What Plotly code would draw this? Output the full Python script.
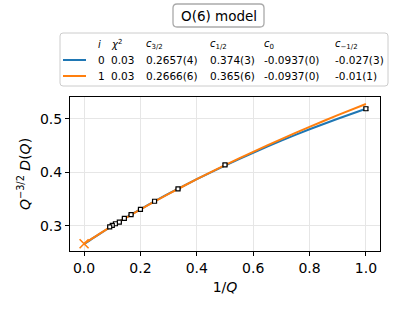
import plotly.graph_objects as go

# ---- data ----
Q = [1, 2, 3, 4, 5, 6, 7, 8, 9, 10, 11]
inv_Q = [1.0, 0.5, 0.3333, 0.25, 0.2, 0.1667, 0.1429, 0.125, 0.1111, 0.1, 0.0909]
D_scaled = [0.519, 0.414, 0.369, 0.346, 0.331, 0.321, 0.314, 0.307, 0.304, 0.301, 0.298]
D_err = [0.003, 0.002, 0.0015, 0.001, 0.001, 0.001, 0.001, 0.001, 0.001, 0.001, 0.001]

fit_x = [0.0, 0.025, 0.05, 0.1, 0.15, 0.2, 0.3, 0.4, 0.5, 0.6, 0.7, 0.8, 0.9, 1.0]
fit0_y = [0.2657, 0.2748, 0.2833, 0.2999, 0.3157, 0.3310, 0.3601, 0.3873, 0.4128, 0.4368, 0.4594, 0.4806, 0.5004, 0.5190]
fit1_y = [0.2666, 0.2753, 0.2838, 0.3000, 0.3156, 0.3308, 0.3598, 0.3873, 0.4135, 0.4385, 0.4623, 0.4852, 0.5070, 0.5279]
extrap_x = [0.0]
extrap_y = [0.2666]

fit_labels_i = ["0", "1"]
fit_chi2 = ["0.03", "0.03"]
fit_c32 = ["0.2657(4)", "0.2666(6)"]
fit_c12 = ["0.374(3)", "0.365(6)"]
fit_c0 = ["-0.0937(0)", "-0.0937(0)"]
fit_cm12 = ["-0.027(3)", "-0.01(1)"]
fit_colors = ["#1f77b4", "#ff7f0e"]

x_ticks = [0.0, 0.2, 0.4, 0.6, 0.8, 1.0]
y_ticks = [0.3, 0.4, 0.5]

# ---- layout geometry (pixels) ----
W_PX, H_PX = 399, 309
L, R, T, B = 70, 380, 97, 251
FONT = "DejaVu Sans"

def px(x):
    return (x - L) / (R - L)

def py(y):
    return (B - y) / (B - T)

def rounded_rect(x0, y0, x1, y1, r):
    rx = r / (R - L)
    ry = r / (B - T)
    X0, X1 = px(x0), px(x1)
    Y0, Y1 = py(y0), py(y1)  # Y0 top (larger), Y1 bottom
    return (f"M {X0+rx},{Y0} L {X1-rx},{Y0} Q {X1},{Y0} {X1},{Y0-ry} "
            f"L {X1},{Y1+ry} Q {X1},{Y1} {X1-rx},{Y1} L {X0+rx},{Y1} "
            f"Q {X0},{Y1} {X0},{Y1+ry} L {X0},{Y0-ry} Q {X0},{Y0} {X0+rx},{Y0} Z")

fig = go.Figure()

for k, fy in enumerate([fit0_y, fit1_y]):
    fig.add_trace(go.Scatter(x=fit_x, y=fy, mode="lines",
                             line=dict(color=fit_colors[k], width=2, shape="spline", smoothing=0.6),
                             showlegend=False, hoverinfo="skip"))

fig.add_trace(go.Scatter(x=inv_Q, y=D_scaled, mode="markers",
                         marker=dict(symbol="square", size=4, color="white",
                                     line=dict(color="black", width=1.2)),
                         error_y=dict(type="data", array=D_err, color="black",
                                      thickness=1, width=2.5),
                         showlegend=False))

fig.add_trace(go.Scatter(x=extrap_x, y=extrap_y, mode="markers",
                         marker=dict(symbol="x-thin", size=9,
                                     line=dict(color=fit_colors[1], width=1.6)),
                         showlegend=False))

shapes = []
annotations = []

# title box
shapes.append(dict(type="path", xref="paper", yref="paper",
                   path=rounded_rect(173, 4, 264, 27, 4),
                   line=dict(color="#aaaaaa", width=1.3), fillcolor="white", layer="above"))
annotations.append(dict(x=px(218.5), y=py(16), xref="paper", yref="paper",
                        text="O(6) model", showarrow=False,
                        font=dict(family=FONT, size=13.5, color="black"),
                        xanchor="center", yanchor="middle"))

# legend table box
shapes.append(dict(type="path", xref="paper", yref="paper",
                   path=rounded_rect(60, 33, 388, 86, 3),
                   line=dict(color="#cccccc", width=1), fillcolor="rgba(255,255,255,0.8)",
                   layer="above"))

col_x = [96, 109, 144, 208, 262, 333]
headers = ["<i>i</i>", "<i>χ</i><sup>2</sup>", "<i>c</i><sub>3/2</sub>",
           "<i>c</i><sub>1/2</sub>", "<i>c</i><sub>0</sub>", "<i>c</i><sub>−1/2</sub>"]
header_y = 44
row_y = [60, 76]

for cx, h in zip(col_x, headers):
    annotations.append(dict(x=px(cx), y=py(header_y), xref="paper", yref="paper",
                            text=h, showarrow=False,
                            font=dict(family=FONT, size=10, color="black"),
                            xanchor="left", yanchor="middle"))

for k in range(2):
    shapes.append(dict(type="line", xref="paper", yref="paper",
                       x0=px(63), x1=px(86), y0=py(row_y[k]), y1=py(row_y[k]),
                       line=dict(color=fit_colors[k], width=2), layer="above"))
    vals = [fit_labels_i[k], fit_chi2[k], fit_c32[k], fit_c12[k], fit_c0[k], fit_cm12[k]]
    for cx, v in zip(col_x, vals):
        annotations.append(dict(x=px(cx), y=py(row_y[k]), xref="paper", yref="paper",
                                text=v, showarrow=False,
                                font=dict(family=FONT, size=10.5, color="black"),
                                xanchor="left", yanchor="middle"))

fig.update_layout(
    width=W_PX, height=H_PX,
    margin=dict(l=L, r=W_PX - R, t=T, b=H_PX - B, pad=0),
    paper_bgcolor="white", plot_bgcolor="white",
    font=dict(family=FONT, size=14, color="black"),
    shapes=shapes, annotations=annotations,
    showlegend=False,
)
fig.update_xaxes(range=[-0.05, 1.05], tickvals=x_ticks, tickformat=".1f",
                 showline=True, mirror=True, linecolor="black", linewidth=1,
                 ticks="outside", ticklen=4, tickcolor="black",
                 showgrid=True, gridcolor="#e6e6e6", gridwidth=1, zeroline=False,
                 title=dict(text="1/<i>Q</i>", font=dict(size=14), standoff=7),
                 tickfont=dict(size=14))
fig.update_yaxes(range=[0.253, 0.541], tickvals=y_ticks, tickformat=".1f",
                 showline=True, mirror=True, linecolor="black", linewidth=1,
                 ticks="outside", ticklen=4, tickcolor="black",
                 showgrid=True, gridcolor="#e6e6e6", gridwidth=1, zeroline=False,
                 title=dict(text="<i>Q</i><sup>−3/2</sup> <i>D</i>(<i>Q</i>)",
                            font=dict(size=14), standoff=6),
                 tickfont=dict(size=14))

fig.write_html("out.html", config={"displayModeBar": False},
               post_script="document.body.style.margin='0';document.body.style.padding='0';")
